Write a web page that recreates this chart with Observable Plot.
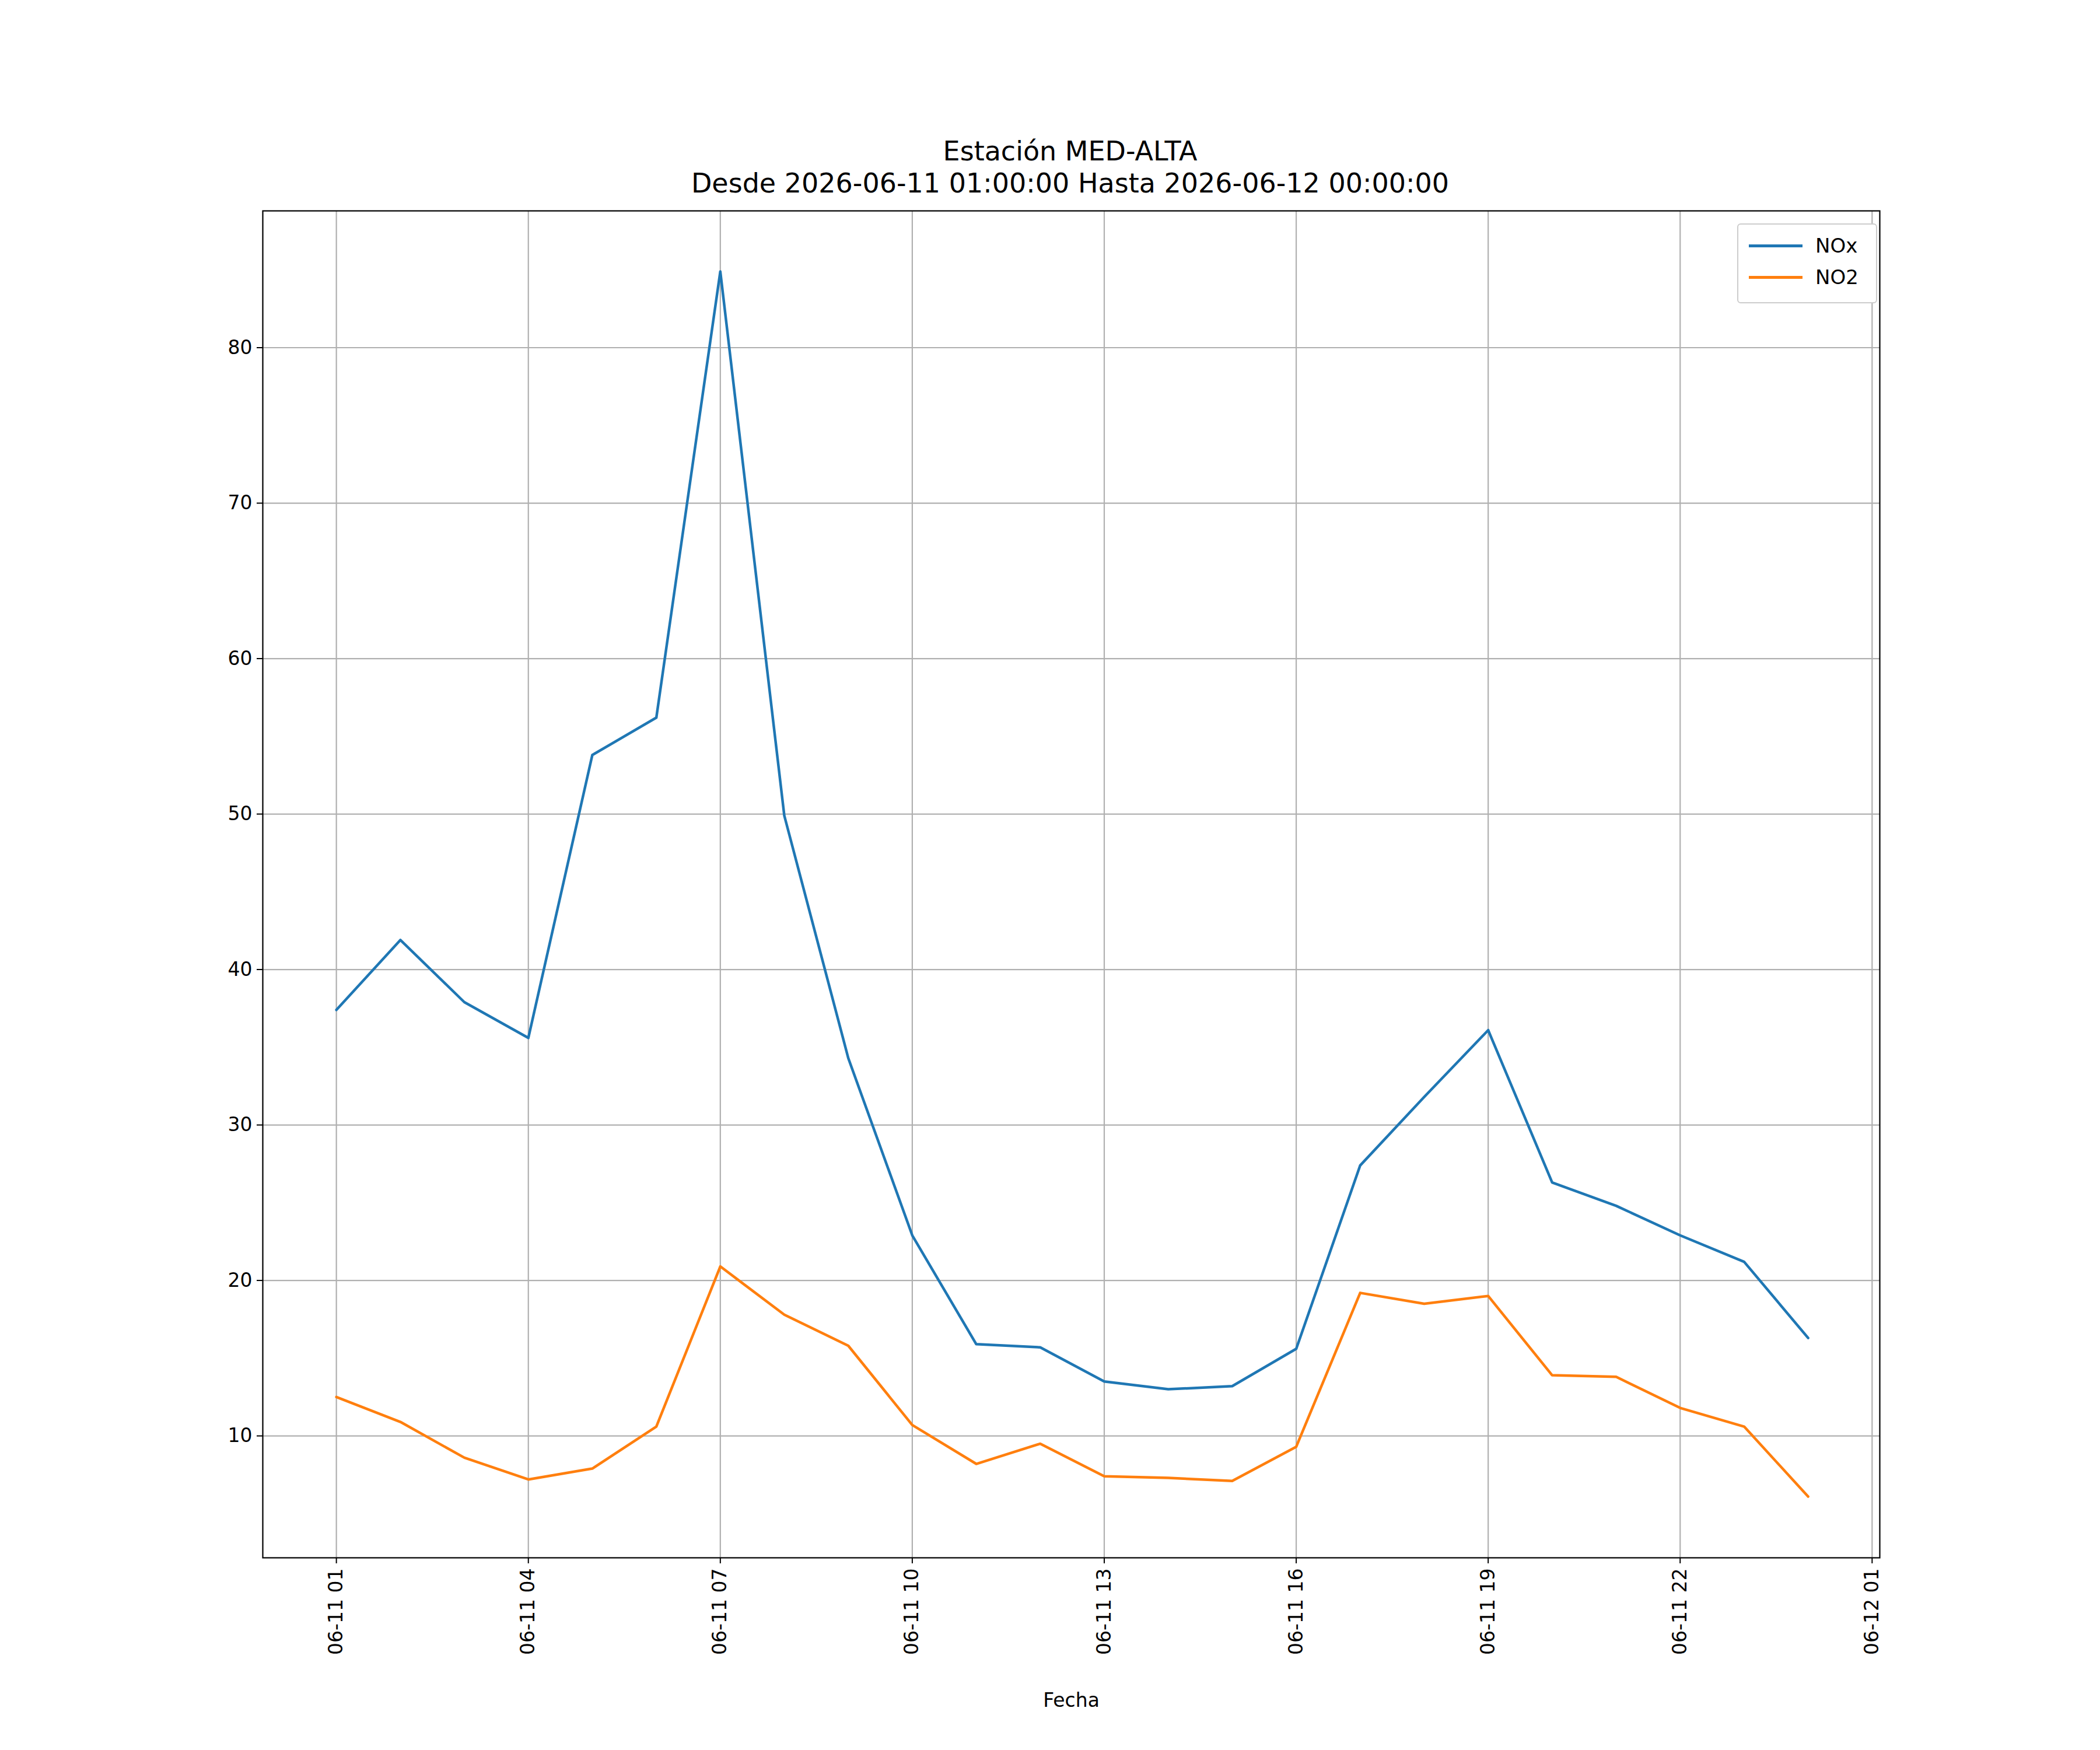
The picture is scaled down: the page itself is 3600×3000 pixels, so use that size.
<!DOCTYPE html>
<html><head><meta charset="utf-8">
<script src="https://cdn.jsdelivr.net/npm/d3@7"></script>
<script src="https://cdn.jsdelivr.net/npm/@observablehq/plot@0.6"></script>
<style>
body{margin:0;background:#fff;font-family:"DejaVu Sans",sans-serif;}
#wrap{position:relative;width:3600px;height:3000px;}
#title{position:absolute;left:432px;width:2805px;top:232px;text-align:center;font-size:46px;line-height:55px;color:#000;}
#legend{position:absolute;left:2978px;top:383px;width:240px;height:137px;border:2px solid #ccc;border-radius:6px;background:#fff;font-size:34px;box-sizing:border-box;}
.row{position:absolute;left:18px;display:flex;align-items:center;}
.sw{width:92px;height:5px;margin-right:22px;}
</style></head><body>
<div id="wrap">
<div id="title">Estación MED-ALTA<br>Desde 2026-06-11 01:00:00 Hasta 2026-06-12 00:00:00</div>
<div id="chart"></div>
<div id="legend">
<div class="row" style="top:16px"><div class="sw" style="background:#1f77b4"></div>NOx</div>
<div class="row" style="top:70px"><div class="sw" style="background:#ff7f0e"></div>NO2</div>
</div>
</div>
<script>
const hours = d3.range(24).map(i => new Date(Date.UTC(2026,5,11,1+i)));
const nox = [37.4,41.9,37.9,35.6,53.8,56.2,84.9,49.9,34.3,22.9,15.9,15.7,13.5,13.0,13.2,15.6,27.4,31.8,36.1,26.3,24.8,22.9,21.2,16.3];
const no2 = [12.5,10.9,8.6,7.2,7.9,10.6,20.9,17.8,15.8,10.7,8.2,9.5,7.4,7.3,7.1,9.3,19.2,18.5,19.0,13.9,13.8,11.8,10.6,6.1];
const yTicks = [10,20,30,40,50,60,70,80];
const xTicks = d3.range(9).map(i => new Date(Date.UTC(2026,5,11,1+3*i)));
const dNOx = hours.map((t,i)=>({t,v:nox[i]}));
const dNO2 = hours.map((t,i)=>({t,v:no2[i]}));
const fmt = d => `${String(d.getUTCMonth()+1).padStart(2,"0")}-${String(d.getUTCDate()).padStart(2,"0")} ${String(d.getUTCHours()).padStart(2,"0")}`;
const h = 3600e3;
const chart = Plot.plot({
  width:3600, height:3000,
  marginLeft:450, marginRight:378, marginTop:361, marginBottom:330,
  style:{fontFamily:"DejaVu Sans, sans-serif", fontSize:"33px", color:"#000", background:"#fff"},
  x:{type:"utc", domain:[new Date(+hours[0]-1.15*h), new Date(+hours[0]+24.12*h)]},
  y:{domain:[2.16,88.8]},
  marks:[
    Plot.gridX(xTicks,{stroke:"#b0b0b0",strokeOpacity:1,strokeWidth:2.2}),
    Plot.gridY(yTicks,{stroke:"#b0b0b0",strokeOpacity:1,strokeWidth:2.2}),
    Plot.axisX(xTicks,{tickFormat:fmt,tickRotate:-90,tickSize:10,tickPadding:8,fontSize:33,strokeWidth:2,label:null}),
    Plot.axisY(yTicks,{tickSize:10,tickPadding:8,fontSize:33,strokeWidth:2,label:null}),
    Plot.text(["Fecha"],{frameAnchor:"bottom",dy:255,fontSize:33}),
    Plot.line(dNOx,{x:"t",y:"v",stroke:"#1f77b4",strokeWidth:4.5}),
    Plot.line(dNO2,{x:"t",y:"v",stroke:"#ff7f0e",strokeWidth:4.5}),
    Plot.frame({stroke:"#000",strokeWidth:2.2})
  ]
});
document.getElementById("chart").appendChild(chart);
</script>
</body></html>
